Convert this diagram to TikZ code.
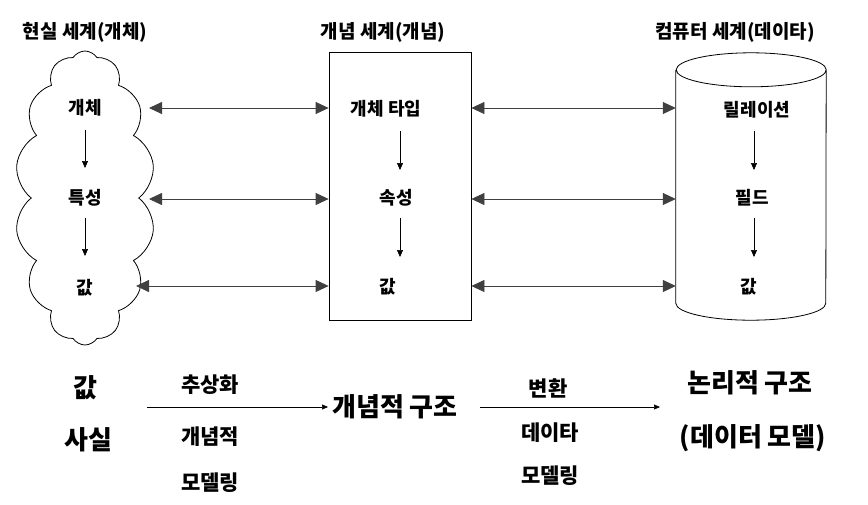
\documentclass[tikz,border=0pt]{standalone}
\usepackage{fontspec}
\setmainfont{Noto Sans CJK KR}
\usepackage{tikz}
\usetikzlibrary{arrows.meta,positioning,shapes.symbols}

\begin{document}
\begin{tikzpicture}[x=1pt,y=-1pt,font=\bfseries,>=Latex]
\tikzset{ttl/.style={font=\fontsize{19}{22}\selectfont\bfseries, inner sep=0pt}, lbl/.style={font=\fontsize{18}{20}\selectfont\bfseries, inner sep=0pt}, mid/.style={font=\fontsize{21}{24}\selectfont\bfseries, inner sep=0pt}, big/.style={font=\fontsize{26}{30}\selectfont\bfseries, inner sep=0pt}, world/.style={draw, line width=.8pt}, dbl/.style={{Triangle[length=13pt,width=12pt]}-{Triangle[length=13pt,width=12pt]}, line width=.8pt, draw=black!75}, down/.style={-{Triangle[length=7pt,width=6pt]}, line width=.6pt}, flow/.style={-{Triangle[length=6pt,width=5pt]}, line width=.6pt}}
\useasboundingbox (0,0) rectangle (868,504);
% three worlds
\node[ttl] (realt) at (85,32) {현실 세계(개체)};
\node[ttl] (conct) at (383,32) {개념 세계(개념)};
\node[ttl] (compt) at (735,32) {컴퓨터 세계(데이타)};
\node[world, cloud, cloud puffs=14, cloud puff arc=115, cloud ignores aspect, minimum width=140pt, minimum height=294pt, inner sep=0pt] (real) at (85,198) {};
\node[world, minimum width=142pt, minimum height=268pt] (concept) at (400,186) {};
\node[minimum width=150pt, minimum height=233pt, inner sep=0pt] (comp) at (751,186.5) {};
\draw[world] (comp.north west) -- (comp.south west) arc[start angle=180, end angle=360, x radius=75pt, y radius=17pt] -- (comp.north east) arc[start angle=0, end angle=360, x radius=75pt, y radius=17pt];
% labels
\node[lbl] (e1) at (85,108) {개체};
\node[lbl] (e2) at (85,198) {특성};
\node[lbl] (e3) at (85,288) {값};
\node[lbl] (c1) at (386,109) {개체 타입};
\node[lbl] (c2) at (396,198) {속성};
\node[lbl] (c3) at (388,287) {값};
\node[lbl] (d1) at (757,110) {릴레이션};
\node[lbl] (d2) at (752,198) {필드};
\node[lbl] (d3) at (749,287) {값};
\draw[down, shorten <=22pt, shorten >=30pt] (e1.center) -- (e2.center);
\draw[down, shorten <=20pt, shorten >=32pt] (e2.center) -- (e3.center);
\draw[down, shorten <=22pt, shorten >=28pt] (c1.center -| concept.center) -- (c2.center -| concept.center);
\draw[down, shorten <=20pt, shorten >=30pt] (c2.center -| concept.center) -- (c3.center -| concept.center);
\draw[down, shorten <=21pt, shorten >=28pt] (d1.center -| 754,0) -- (d2.center -| 754,0);
\draw[down, shorten <=20pt, shorten >=30pt] (d2.center -| 754,0) -- (d3.center -| 754,0);
% links between worlds
\coordinate (r1) at (149,108);
\coordinate (r2) at (149,199);
\coordinate (r3) at (136,286);
\foreach \r in {r1,r2,r3}{
\draw[dbl] (\r) -- (concept.west |- \r);
\draw[dbl] (concept.east |- \r) -- (comp.west |- \r);
}
% modelling steps
\node[big] (val) at (85,388) {값};
\node[big] (fact) at (88,440) {사실};
\node[mid] (abs) at (210,385) {추상화};
\node[mid] (cm1) at (210,437) {개념적};
\node[mid] (cm2) at (210,483) {모델링};
\node[big] (cstr) at (395,407) {개념적 구조};
\node[mid] (tr) at (548,388) {변환};
\node[mid] (dm1) at (550,433) {데이타};
\node[mid] (dm2) at (550,476) {모델링};
\node[big] (lstr) at (750,383) {논리적 구조};
\node[big] (dmod) at (753,438) {(데이터 모델)};
\coordinate (s0) at (147,407);
\coordinate (s2) at (660,407);
\draw[flow, shorten >=4pt] (s0) -- (cstr);
\draw[flow, shorten <=22pt] (cstr) -- (s2);
\end{tikzpicture}
\end{document}
